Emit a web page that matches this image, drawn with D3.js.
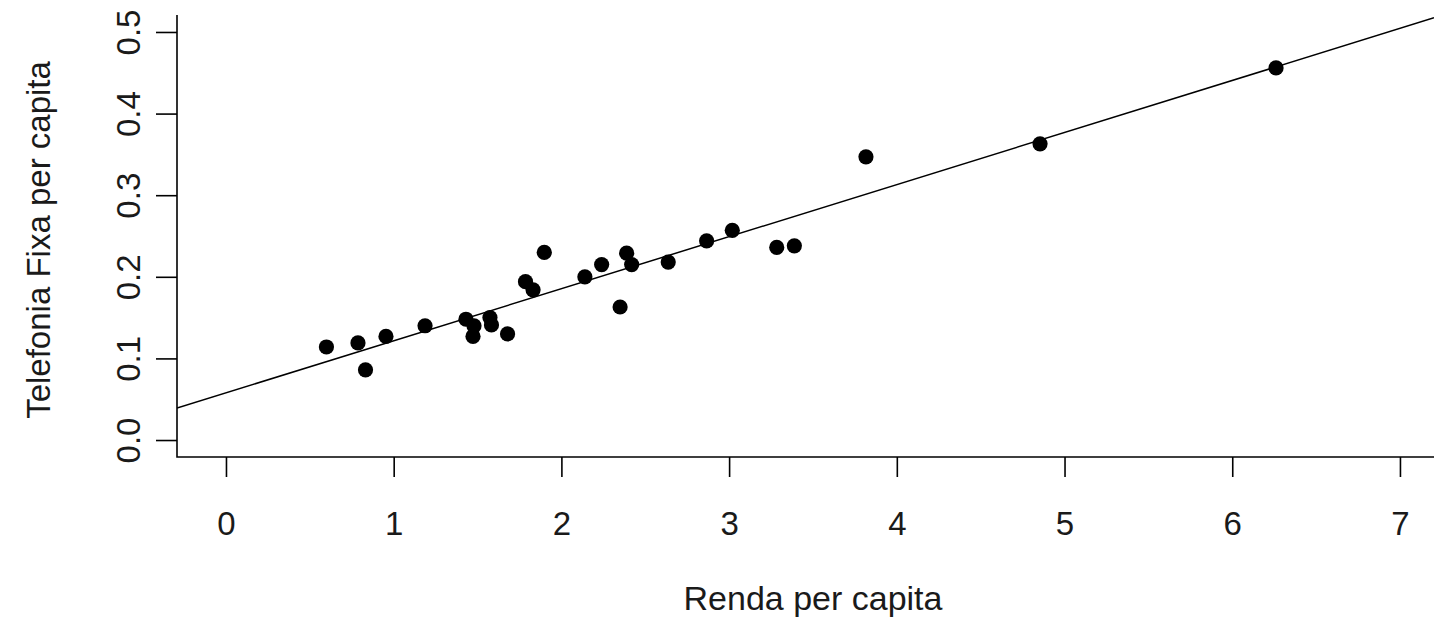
<!DOCTYPE html>
<html>
<head>
<meta charset="utf-8">
<script src="https://cdn.jsdelivr.net/npm/d3@7"></script>
<style>
  html, body { margin: 0; padding: 0; background: #fff; overflow: hidden; }
  svg { display: block; }
  text { font-family: "Liberation Sans", Arial, sans-serif; fill: #1a1a1a; }
</style>
</head>
<body>
<svg id="chart" width="1434" height="619"></svg>
<script>
// Renda per capita (x) and Telefonia Fixa per capita (y), one pair per state
const renda = [0.599, 0.787, 0.832, 0.954, 1.187, 1.431, 1.479, 1.473, 1.574,
  1.583, 1.679, 1.786, 1.831, 1.898, 2.140, 2.240, 2.389, 2.419, 2.350,
  2.637, 2.866, 3.019, 3.284, 3.389, 3.816, 4.854, 6.261];
const telefonia = [0.114, 0.119, 0.086, 0.127, 0.140, 0.148, 0.140, 0.127, 0.150,
  0.141, 0.130, 0.194, 0.184, 0.230, 0.200, 0.215, 0.229, 0.215, 0.163,
  0.218, 0.244, 0.257, 0.236, 0.238, 0.347, 0.363, 0.456];

// Least-squares fit line: telefonia = intercept + slope * renda
const fitIntercept = 0.0578;
const fitSlope = 0.0638;

const xTicks = [0, 1, 2, 3, 4, 5, 6, 7];
const yTicks = [0.0, 0.1, 0.2, 0.3, 0.4, 0.5];
const xTitle = "Renda per capita";
const yTitle = "Telefonia Fixa per capita";

const svg = d3.select("#chart");
const plot = { left: 177, right: 1434, top: 15, bottom: 457 };

const x = d3.scaleLinear().domain([-0.292, 7.203]).range([plot.left, plot.right]);
const y = d3.scaleLinear().domain([-0.0208, 0.5208]).range([plot.bottom, plot.top]);

svg.append("defs").append("clipPath").attr("id", "plotClip")
  .append("rect")
  .attr("x", plot.left).attr("y", plot.top)
  .attr("width", plot.right - plot.left).attr("height", plot.bottom - plot.top);

const fontSize = 33;
const fontFamily = "'Liberation Sans', Arial, sans-serif";

// Bottom axis: ticks pointing down, labels below
const xAxis = svg.append("g")
  .attr("transform", `translate(0,${plot.bottom})`)
  .call(d3.axisBottom(x).tickValues(xTicks).tickSize(20).tickFormat(d3.format("d")));
xAxis.select(".domain").remove();
xAxis.selectAll(".tick line").attr("stroke", "#000").attr("stroke-width", 1.6);
xAxis.selectAll(".tick text")
  .attr("y", 66)
  .attr("dy", "0.35em")
  .style("font-size", fontSize + "px")
  .style("font-family", fontFamily)
  .attr("fill", "#1a1a1a");

// Left axis: ticks pointing left, labels rotated parallel to the axis
const yAxis = svg.append("g")
  .attr("transform", `translate(${plot.left},0)`)
  .call(d3.axisLeft(y).tickValues(yTicks).tickSize(21).tickFormat(d3.format(".1f")));
yAxis.select(".domain").remove();
yAxis.selectAll(".tick line").attr("stroke", "#000").attr("stroke-width", 1.6);
yAxis.selectAll(".tick text")
  .attr("x", null)
  .attr("text-anchor", "middle")
  .attr("transform", "translate(-49,0) rotate(-90)")
  .attr("dy", "0.35em")
  .style("font-size", fontSize + "px")
  .style("font-family", fontFamily)
  .attr("fill", "#1a1a1a");

// L-shaped frame (left and bottom sides)
svg.append("path")
  .attr("d", `M${plot.left},${plot.top}V${plot.bottom}H${plot.right}`)
  .attr("fill", "none").attr("stroke", "#000").attr("stroke-width", 1.6);

// Fitted regression line across the plotting region
const [x0, x1] = x.domain();
svg.append("line")
  .attr("clip-path", "url(#plotClip)")
  .attr("x1", x(x0)).attr("y1", y(fitIntercept + fitSlope * x0))
  .attr("x2", x(x1)).attr("y2", y(fitIntercept + fitSlope * x1))
  .attr("stroke", "#000").attr("stroke-width", 1.5);

// Observations
svg.append("g").selectAll("circle")
  .data(renda.map((r, i) => ({ r, t: telefonia[i] })))
  .join("circle")
  .attr("cx", d => x(d.r))
  .attr("cy", d => y(d.t))
  .attr("r", 7.6)
  .attr("fill", "#000");

// Axis titles
svg.append("text")
  .attr("x", 813).attr("y", 610)
  .attr("text-anchor", "middle")
  .style("font-size", "34px")
  .text(xTitle);

svg.append("text")
  .attr("transform", `translate(38,${(plot.top + plot.bottom) / 2 + 4}) rotate(-90)`)
  .attr("text-anchor", "middle").attr("dy", "0.35em")
  .style("font-size", fontSize + "px")
  .text(yTitle);
</script>
</body>
</html>
